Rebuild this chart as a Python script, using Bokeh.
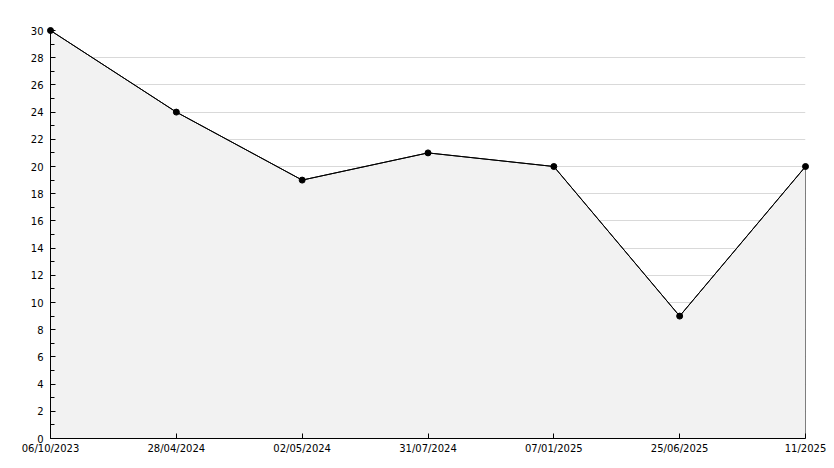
from bokeh.plotting import figure
from bokeh.models import FixedTicker, SingleIntervalTicker, Range1d
from bokeh.embed import file_html
from bokeh.resources import INLINE

dates = ["06/10/2023", "28/04/2024", "02/05/2024", "31/07/2024", "07/01/2025", "25/06/2025", "11/2025"]
values = [30, 24, 19, 21, 20, 9, 20]
xs = list(range(len(dates)))

W, H = 826, 460
p = figure(width=W, height=H, output_backend="svg", toolbar_location=None,
           x_range=Range1d(0, len(dates) - 1), y_range=Range1d(0, 30),
           min_border_left=50, min_border_right=21, min_border_top=30, min_border_bottom=22)
p.outline_line_color = None
p.background_fill_color = "white"

# area
p.patch(xs + [xs[-1], xs[0]], values + [0, 0], fill_color="#f2f2f2", line_color="black", line_width=1)
p.line(xs, values, line_color="black", line_width=1)
p.scatter(xs, values, marker="circle", size=6, color="black", level="overlay")

font = "DejaVu Sans"
p.xaxis.ticker = FixedTicker(ticks=xs)
p.xaxis.major_label_overrides = {i: d for i, d in zip(xs, dates)}
p.xaxis.major_tick_in = 5
p.xaxis.major_tick_out = 0
p.xaxis.major_label_standoff = 4

p.yaxis.ticker = SingleIntervalTicker(interval=2, num_minor_ticks=2)
p.yaxis.major_tick_in = 5
p.yaxis.major_tick_out = 0
p.yaxis.minor_tick_in = 4
p.yaxis.minor_tick_out = 0
p.yaxis.major_label_standoff = 7

for ax in (p.xaxis, p.yaxis):
    ax.axis_line_color = "black"
    ax.major_tick_line_color = "black"
    ax.major_label_text_font = font
    ax.major_label_text_font_size = "10px"
    ax.major_label_text_color = "black"
p.xaxis.minor_tick_line_color = None
p.yaxis.minor_tick_line_color = "black"

p.xgrid.grid_line_color = None
p.ygrid.grid_line_color = "#d9d9d9"
p.ygrid.ticker = SingleIntervalTicker(interval=2)

open("out.html", "w").write(file_html(p, INLINE))
